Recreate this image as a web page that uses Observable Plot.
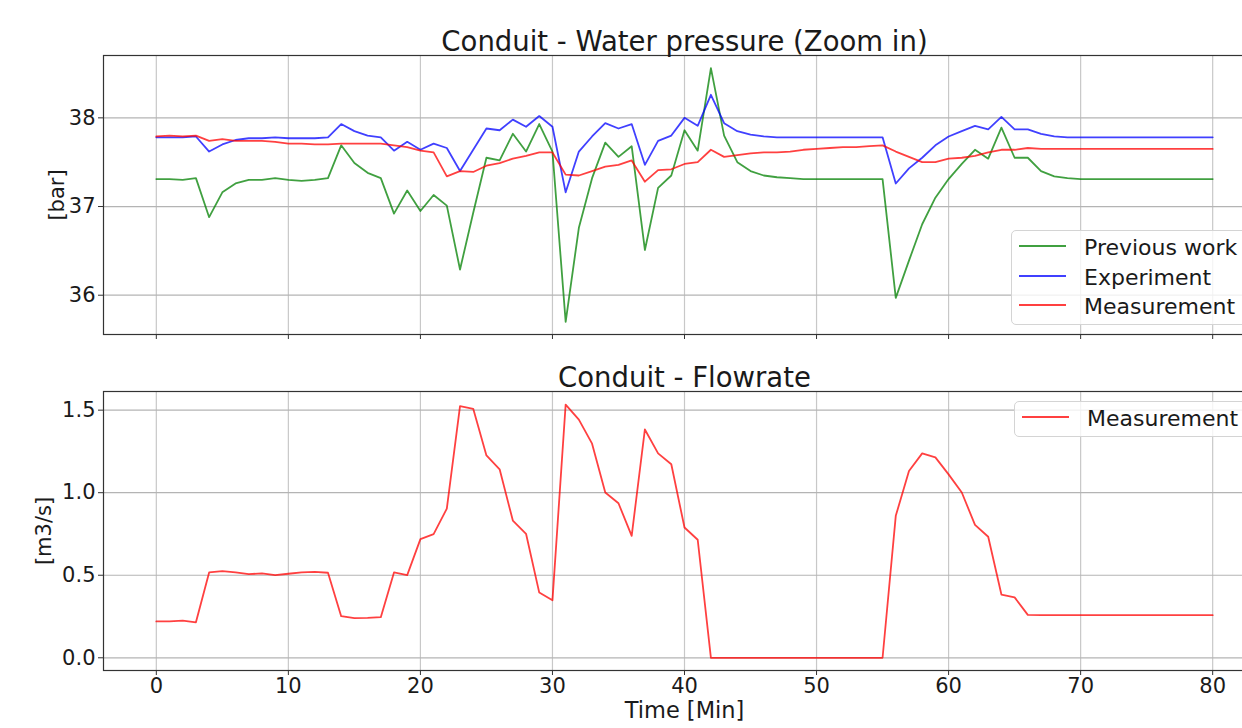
<!DOCTYPE html>
<html>
<head>
<meta charset="utf-8">
<script src="https://cdn.jsdelivr.net/npm/d3@7"></script>
<script src="https://cdn.jsdelivr.net/npm/@observablehq/plot@0.6"></script>
<style>
  html, body { margin: 0; padding: 0; background: #fff; overflow: hidden; }
  #wrap { position: relative; width: 1242px; height: 728px; overflow: hidden; font-family: "DejaVu Sans", sans-serif; }
  .panel { position: absolute; left: 0; width: 1266px; }
  .panel svg { max-width: none !important; }
  .legend { position: absolute; background: rgba(255,255,255,0.8); border: 1px solid #d4d4d4; border-radius: 5px; width: 400px; }
  .row { position: absolute; left: 0; height: 0; }
  .sw { position: absolute; width: 47px; height: 2px; top: -1px; }
  .lt { position: absolute; font-size: 22px; line-height: 22px; top: -9px; color: #1a1a1a; white-space: nowrap; }
</style>
</head>
<body>
<div id="wrap"></div>
<script>
// ---- data ----
const time = [0,1,2,3,4,5,6,7,8,9,10,11,12,13,14,15,16,17,18,19,20,21,22,23,24,25,26,27,28,29,30,31,32,33,34,35,36,37,38,39,40,41,42,43,44,45,46,47,48,49,50,51,52,53,54,55,56,57,58,59,60,61,62,63,64,65,66,67,68,69,70,71,72,73,74,75,76,77,78,79,80];

const previousWork = [37.31,37.31,37.30,37.32,36.88,37.16,37.26,37.30,37.30,37.32,37.30,37.29,37.30,37.32,
  37.69,37.49,37.38,37.32,36.92,37.18,36.95,37.13,37.01,36.29,36.93,37.55,37.52,37.82,37.62,37.93,37.62,
  35.70,36.76,37.32,37.72,37.56,37.68,36.51,37.21,37.35,37.86,37.63,38.56,
  37.80,37.50,37.40,37.35,37.33,37.32,37.31,37.31,37.31,37.31,37.31,37.31,37.31,
  35.97,36.39,36.80,37.10,37.31,37.48,37.64,37.54,37.89,37.55,37.55,37.40,37.34,37.32,
  37.31,37.31,37.31,37.31,37.31,37.31,37.31,37.31,37.31,37.31,37.31];

const experiment = [37.78,37.78,37.78,37.79,37.62,37.70,37.75,37.77,37.77,37.78,37.77,37.77,37.77,37.78,
  37.93,37.85,37.80,37.78,37.63,37.73,37.64,37.71,37.66,37.40,37.64,37.88,37.86,37.98,37.90,38.02,37.90,
  37.16,37.62,37.79,37.94,37.88,37.93,37.47,37.74,37.80,38.00,37.91,38.26,
  37.94,37.85,37.81,37.79,37.78,37.78,37.78,37.78,37.78,37.78,37.78,37.78,37.78,
  37.26,37.43,37.55,37.69,37.79,37.85,37.91,37.87,38.01,37.87,37.87,37.82,37.79,37.78,
  37.78,37.78,37.78,37.78,37.78,37.78,37.78,37.78,37.78,37.78,37.78];

const measurementPressure = [37.79,37.80,37.79,37.80,37.74,37.76,37.74,37.74,37.74,37.73,37.71,37.71,37.70,37.70,
  37.71,37.71,37.71,37.71,37.69,37.67,37.63,37.61,37.34,37.40,37.39,37.46,37.49,37.54,37.57,37.61,37.61,
  37.36,37.35,37.40,37.45,37.47,37.52,37.28,37.41,37.42,37.48,37.50,37.64,
  37.56,37.58,37.60,37.61,37.61,37.62,37.64,37.65,37.66,37.67,37.67,37.68,37.69,
  37.62,37.56,37.50,37.50,37.54,37.55,37.57,37.61,37.64,37.64,37.66,37.65,37.65,37.65,
  37.65,37.65,37.65,37.65,37.65,37.65,37.65,37.65,37.65,37.65,37.65];

const measurementFlow = [0.220,0.220,0.225,0.215,0.517,0.525,0.517,0.507,0.511,0.501,0.509,0.517,0.521,0.515,
  0.252,0.240,0.242,0.246,0.517,0.501,0.719,0.749,0.904,1.524,1.508,1.226,1.142,0.831,0.751,0.395,0.348,
  1.534,1.443,1.297,1.001,0.936,0.739,1.383,1.238,1.172,0.789,0.715,
  0,0,0,0,0,0,0,0,0,0,0,0,0,0,
  0.860,1.131,1.238,1.214,1.111,1.001,0.805,0.733,0.383,0.366,0.260,
  0.258,0.258,0.258,0.258,0.258,0.258,0.258,0.258,0.258,0.258,0.258,0.258,0.258,0.258];

const seriesNames = ["Previous work", "Experiment", "Measurement"];
const seriesColors = ["#008000", "#0000ff", "#ff0000"];
const xTicks = [0,10,20,30,40,50,60,70,80];
const yTicksPressure = [36,37,38];
const yTicksFlow = [0.0,0.5,1.0,1.5];
const titlePressure = "Conduit - Water pressure (Zoom in)";
const titleFlow = "Conduit - Flowrate";
const xLabel = "Time [Min]";

// ---- tables ----
const pressureRows = [];
[previousWork, experiment, measurementPressure].forEach((arr, i) => {
  arr.forEach((v, j) => pressureRows.push({t: time[j], v, s: seriesNames[i]}));
});
const flowRows = measurementFlow.map((v, j) => ({t: time[j], v}));

const W = 1266;
const common = {
  width: W,
  marginLeft: 103,
  marginRight: 1,
  style: {fontFamily: "DejaVu Sans, sans-serif", fontSize: "21px", color: "#1a1a1a", background: "transparent", overflow: "visible", maxWidth: "none"},
  x: {domain: [-4, 84]}
};

const chartTop = Plot.plot({
  ...common,
  height: 346,
  marginTop: 55,
  marginBottom: 12,
  y: {domain: [35.557, 38.703]},
  color: {domain: seriesNames, range: seriesColors},
  marks: [
    Plot.gridX(xTicks, {stroke: "#c8c8c8", strokeOpacity: 1, strokeWidth: 1.2}),
    Plot.gridY(yTicksPressure, {stroke: "#b4b4b4", strokeOpacity: 1, strokeWidth: 1.2}),
    Plot.line(pressureRows, {x: "t", y: "v", z: "s", stroke: "s", strokeWidth: 1.8, strokeOpacity: 0.75}),
    Plot.frame({stroke: "#333", strokeWidth: 1.2}),
    Plot.axisX({ticks: xTicks, tickSize: 5, tickFormat: () => "", label: null, stroke: "#333"}),
    Plot.axisY({ticks: yTicksPressure, tickSize: 5, tickPadding: 3, tickFormat: d3.format("d"), label: "[bar]", labelAnchor: "center", labelArrow: "none", labelOffset: 54, stroke: "#333"}),
    Plot.text([titlePressure], {frameAnchor: "top", lineAnchor: "bottom", dy: -5, fontSize: 27.5, fill: "#1a1a1a"})
  ]
});

const chartBottom = Plot.plot({
  ...common,
  height: 382,
  marginTop: 45,
  marginBottom: 58,
  y: {domain: [-0.077, 1.613]},
  marks: [
    Plot.gridX(xTicks, {stroke: "#c8c8c8", strokeOpacity: 1, strokeWidth: 1.2}),
    Plot.gridY(yTicksFlow, {stroke: "#b4b4b4", strokeOpacity: 1, strokeWidth: 1.2}),
    Plot.line(flowRows, {x: "t", y: "v", stroke: "#ff0000", strokeWidth: 1.8, strokeOpacity: 0.75}),
    Plot.frame({stroke: "#333", strokeWidth: 1.2}),
    Plot.axisX({ticks: xTicks, tickSize: 5, tickPadding: 3, label: null, stroke: "#333"}),
    Plot.axisY({ticks: yTicksFlow, tickSize: 5, tickPadding: 3, tickFormat: d3.format(".1f"), label: "[m3/s]", labelAnchor: "center", labelArrow: "none", labelOffset: 67, stroke: "#333"}),
    Plot.text([xLabel], {frameAnchor: "bottom", lineAnchor: "middle", dy: 40, fontSize: 22.5, fill: "#1a1a1a"}),
    Plot.text([titleFlow], {frameAnchor: "top", lineAnchor: "bottom", dy: -5, fontSize: 27.5, fill: "#1a1a1a"})
  ]
});

const wrap = document.getElementById("wrap");
const p1 = document.createElement("div"); p1.className = "panel"; p1.style.top = "0px"; p1.appendChild(chartTop);
const p2 = document.createElement("div"); p2.className = "panel"; p2.style.top = "346px"; p2.appendChild(chartBottom);
wrap.appendChild(p1); wrap.appendChild(p2);

function legend(entries, left, topPx, height, lineX, textX, rowYs) {
  const box = document.createElement("div");
  box.className = "legend";
  box.style.left = left + "px"; box.style.top = topPx + "px"; box.style.height = height + "px";
  entries.forEach((e, i) => {
    const row = document.createElement("div");
    row.className = "row"; row.style.top = rowYs[i] + "px";
    const sw = document.createElement("div");
    sw.className = "sw"; sw.style.left = lineX + "px"; sw.style.background = e.color; sw.style.opacity = 0.75;
    const t = document.createElement("span");
    t.className = "lt"; t.style.left = textX + "px"; t.textContent = e.name;
    row.appendChild(sw); row.appendChild(t); box.appendChild(row);
  });
  wrap.appendChild(box);
}
legend(seriesNames.map((n, i) => ({name: n, color: seriesColors[i]})), 1011, 230, 93, 7, 72, [15, 44.5, 73.5]);
legend([{name: "Measurement", color: "#ff0000"}], 1014, 401, 34, 7, 72, [15]);
</script>
</body>
</html>
